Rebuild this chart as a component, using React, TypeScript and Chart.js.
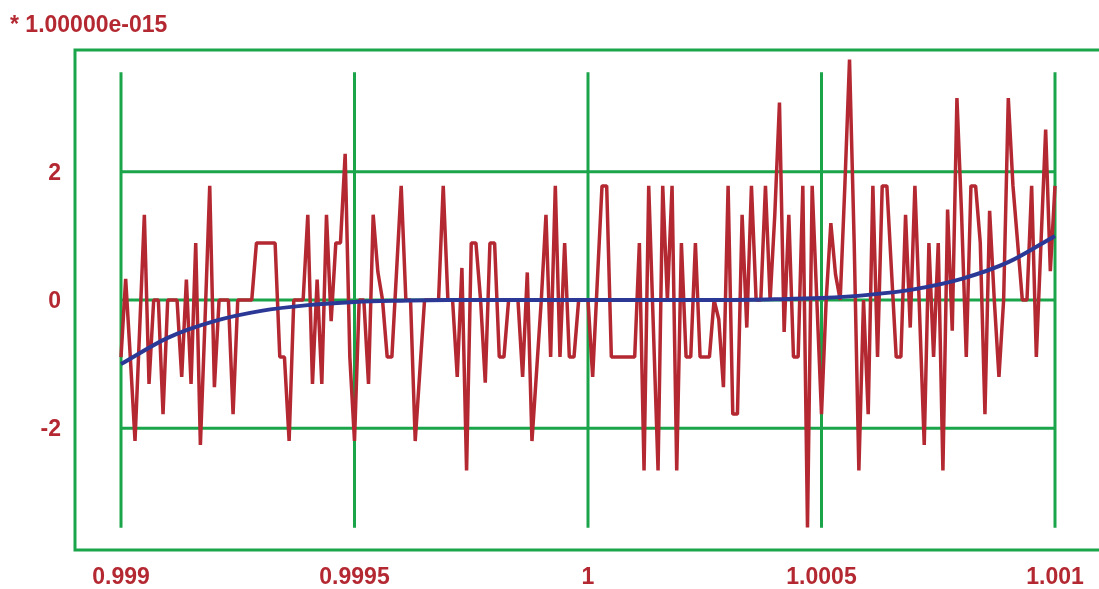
import React, { useEffect, useRef } from "react";
import { Chart, registerables } from "chart.js";

Chart.register(...registerables);

// ---- data (units of 1e-15) ----
const scaleNote = "* 1.00000e-015";
const xTicks = [0.999, 0.9995, 1, 1.0005, 1.001];
const xTickLabels = ["0.999", "0.9995", "1", "1.0005", "1.001"];
const yTicks = [-2, 0, 2];
const yTickLabels = ["-2", "0", "2"];

const xFirst = 0.999;
const xLast = 1.001;
const noisyStep = 0.00001;
const noisyValues = [
  -0.89, 0.33, -0.9, -2.2, -0.45, 1.33, -1.31, 0, 0, -1.78,
  0, 0, 0, -1.2, 0.32, -1.31, 0.89, -2.26, -0.3, 1.78,
  -1.36, 0, 0, 0, -1.78, 0, 0, 0, 0, 0.89,
  0.89, 0.89, 0.89, 0.89, -0.89, -0.89, -2.2, 0, 0, 0,
  1.33, -1.31, 0.32, -1.31, 1.33, -0.33, 0.89, 0.89, 2.28, -0.89,
  -2.2, 0, 0, -1.31, 1.33, 0.44, 0, -0.89, -0.89, 0.44,
  1.78, 0, 0, -2.2, -1.1, 0, 0, 0, 0, 1.78,
  0, 0, -1.2, 0.5, -2.66, 0.89, 0.89, 0, -1.29, 0.89,
  0.89, -0.89, -0.89, 0, 0, 0, -1.2, 0.43, -2.2, -1.1,
  0, 1.33, -0.89, 1.78, -0.89, 0.89, -0.89, -0.89, 0, 0,
  0, -1.2, 0.3, 1.78, 1.78, -0.89, -0.89, -0.89, -0.89, -0.89,
  -0.89, 0.89, -2.66, 1.78, -0.44, -2.66, 1.78, 0, 1.78, -2.66,
  0.89, -0.89, -0.89, 0.89, -0.89, -0.89, -0.89, 0, -0.3, -1.36,
  1.78, -1.78, -1.78, 1.33, -0.43, 1.78, 0, 0, 1.78, 0,
  1.33, 3.08, -0.5, 1.33, -0.89, -0.89, 1.78, -3.55, 1.78, 0,
  -1.78, 0, 1.2, 0.4, 0, 1.78, 3.75, 0.89, -2.66, 0,
  -1.78, 1.78, -0.89, 1.78, 1.78, 0.44, -0.89, -0.89, 1.33, -0.43,
  1.78, -0.2, -2.26, 0.89, -0.89, 0.89, -2.66, 1.41, -0.48, 3.15,
  1.33, -0.89, 1.78, 1.78, 0.89, -1.78, 1.39, 0, -1.2, 0,
  3.15, 1.78, 0.89, 0, 0, 1.78, -0.89, 0.89, 2.66, 0.45,
  1.78,
];

const smoothStep = 0.0001;
const smoothValues = [
  -1.0, -0.59, -0.33, -0.17, -0.08, -0.03, -0.01, 0, 0, 0, 0,
  0, 0, 0, 0.01, 0.03, 0.08, 0.17, 0.33, 0.59, 1.0,
];

const dataLow = -3.553;
const dataHigh = 3.553;

// ---- styles ----
const GREEN = "#1BA54B";
const RED = "#B42832";
const BLUE = "#2B3896";
const FONT = "bold 23px 'Liberation Sans', Arial, sans-serif";

const decoPlugin = {
  id: "deco",
  beforeDatasetsDraw(chart: any) {
    const { ctx, chartArea: a, scales } = chart;
    const x = scales.x;
    const y = scales.y;
    ctx.save();
    ctx.strokeStyle = GREEN;
    ctx.lineWidth = 3;
    ctx.lineCap = "butt";
    ctx.lineJoin = "miter";
    ctx.beginPath();
    ctx.moveTo(a.right, a.top);
    ctx.lineTo(a.left, a.top);
    ctx.lineTo(a.left, a.bottom);
    ctx.lineTo(a.right, a.bottom);
    ctx.stroke();

    const gx0 = x.getPixelForValue(xFirst);
    const gx1 = x.getPixelForValue(xLast);
    const gyTop = y.getPixelForValue(dataHigh);
    const gyBot = y.getPixelForValue(dataLow);
    ctx.beginPath();
    yTicks.forEach((v) => {
      const py = y.getPixelForValue(v);
      ctx.moveTo(gx0, py);
      ctx.lineTo(gx1, py);
    });
    xTicks.forEach((v) => {
      const px = x.getPixelForValue(v);
      ctx.moveTo(px, gyTop);
      ctx.lineTo(px, gyBot);
    });
    ctx.stroke();
    ctx.restore();
  },
  afterDraw(chart: any) {
    const { ctx, scales } = chart;
    const x = scales.x;
    const y = scales.y;
    ctx.save();
    ctx.fillStyle = RED;
    ctx.font = FONT;
    ctx.textBaseline = "alphabetic";
    ctx.textAlign = "left";
    ctx.fillText(scaleNote, 10, 31.5);
    ctx.textAlign = "right";
    yTicks.forEach((v, i) => {
      ctx.fillText(yTickLabels[i], 61, y.getPixelForValue(v) + 8.2);
    });
    ctx.textAlign = "center";
    xTicks.forEach((v, i) => {
      ctx.fillText(xTickLabels[i], x.getPixelForValue(v), 583.5);
    });
    ctx.restore();
  },
};

export default function App() {
  const ref = useRef<HTMLCanvasElement | null>(null);

  useEffect(() => {
    if (!ref.current) return;
    const noisy = noisyValues.map((v, i) => ({ x: xFirst + i * noisyStep, y: v }));
    const smooth = smoothValues.map((v, i) => ({ x: xFirst + i * smoothStep, y: v }));
    const chart = new Chart(ref.current, {
      type: "line",
      data: {
        datasets: [
          {
            label: "exact",
            data: smooth,
            borderColor: BLUE,
            borderWidth: 4,
            pointRadius: 0,
            cubicInterpolationMode: "monotone",
            fill: false,
          },
          {
            label: "computed",
            data: noisy,
            borderColor: RED,
            borderWidth: 3.5,
            borderJoinStyle: "bevel",
            pointRadius: 0,
            tension: 0,
            fill: false,
          },
        ],
      },
      options: {
        responsive: false,
        animation: false,
        layout: { padding: { left: 75, top: 50, right: 0, bottom: 39 } },
        scales: {
          x: {
            type: "linear",
            display: false,
            min: 0.999 - 46 / 467000,
            max: 1.001 + 44 / 467000,
          },
          y: { type: "linear", display: false, min: -3.9, max: 3.9 },
        },
        plugins: { legend: { display: false }, tooltip: { enabled: false } },
      },
      plugins: [decoPlugin],
    });
    return () => chart.destroy();
  }, []);

  return (
    <div style={{ position: "absolute", left: 0, top: 0, width: 1099, height: 589, background: "#fff" }}>
      <canvas ref={ref} width={1099} height={589} style={{ display: "block" }} />
    </div>
  );
}
